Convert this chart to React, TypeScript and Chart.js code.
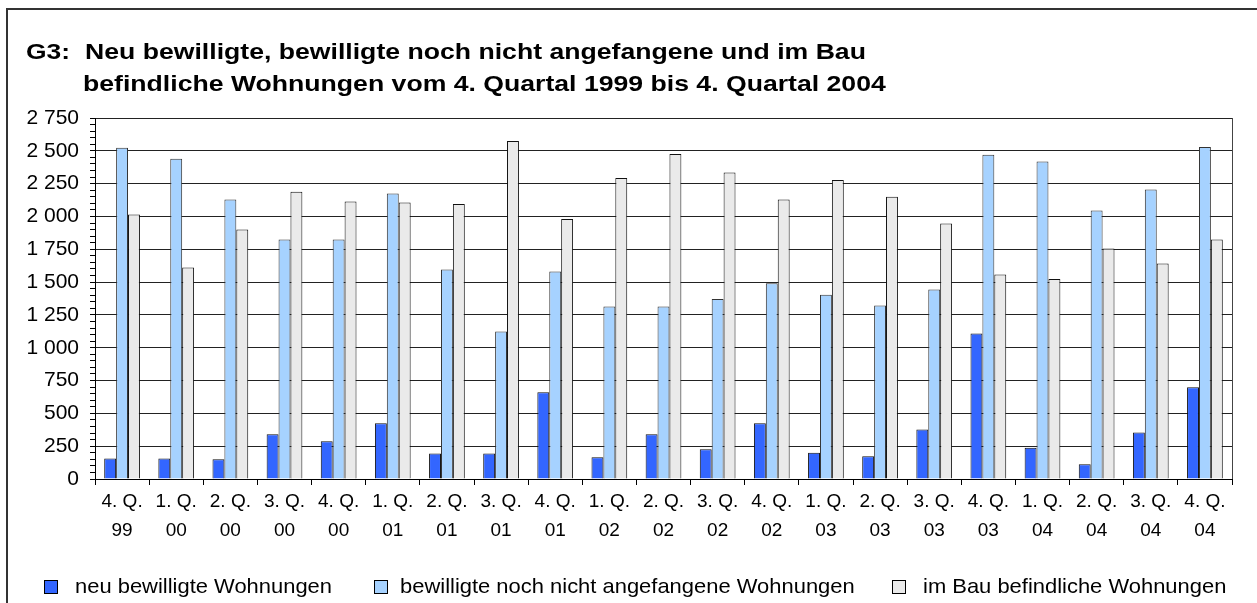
import React, { useEffect, useRef } from "react";
import { Chart, registerables } from "chart.js";

Chart.register(...registerables);

const quarters = ["4. Q.", "1. Q.", "2. Q.", "3. Q.", "4. Q.", "1. Q.", "2. Q.", "3. Q.", "4. Q.", "1. Q.", "2. Q.", "3. Q.", "4. Q.", "1. Q.", "2. Q.", "3. Q.", "4. Q.", "1. Q.", "2. Q.", "3. Q.", "4. Q."];
const years = ["99", "00", "00", "00", "00", "01", "01", "01", "01", "02", "02", "02", "02", "03", "03", "03", "03", "04", "04", "04", "04"];

const neuBewilligt = [157, 157, 150, 340, 287, 424, 195, 195, 660, 165, 340, 226, 424, 200, 173, 378, 1109, 238, 112, 355, 698];
const nochNichtAngefangen = [2524, 2440, 2129, 1824, 1824, 2174, 1596, 1124, 1581, 1314, 1314, 1372, 1492, 1403, 1322, 1444, 2471, 2418, 2045, 2205, 2529];
const imBau = [2014, 1611, 1900, 2189, 2113, 2106, 2095, 2575, 1981, 2293, 2476, 2334, 2129, 2278, 2151, 1946, 1558, 1524, 1756, 1642, 1824];

const seriesLabels = [
  "neu bewilligte Wohnungen",
  "bewilligte noch nicht angefangene Wohnungen",
  "im Bau befindliche Wohnungen",
];

const titlePrefix = "G3:";
const titleLine1 = "Neu bewilligte, bewilligte noch nicht angefangene und im Bau";
const titleLine2 = "befindliche Wohnungen vom 4. Quartal 1999 bis 4. Quartal 2004";

const FONT = "'Liberation Sans', Arial, sans-serif";

const fmt = (v: number) => {
  const s = String(Math.round(v));
  return s.length > 3 ? s.slice(0, s.length - 3) + " " + s.slice(-3) : s;
};

const drawWide = (ctx: any, text: string, x: number, y: number, sx: number) => {
  ctx.save();
  ctx.translate(x, y);
  ctx.scale(sx, 1);
  ctx.fillText(text, 0, 0);
  ctx.restore();
};

const decorPlugin = {
  id: "decor",
  beforeDraw(chart: any) {
    const ctx = chart.ctx;
    ctx.save();
    ctx.fillStyle = "#fff";
    ctx.fillRect(0, 0, chart.width, chart.height);
    ctx.strokeStyle = "#333";
    ctx.lineWidth = 2;
    ctx.strokeRect(7, 9, chart.width + 10, chart.height + 10);
    ctx.restore();
  },
  afterDraw(chart: any) {
    const ctx = chart.ctx;
    const a = chart.chartArea;
    ctx.save();
    // right border of plot area
    ctx.strokeStyle = "#444";
    ctx.lineWidth = 1;
    ctx.beginPath();
    ctx.moveTo(Math.round(a.right) + 0.5, a.top);
    ctx.lineTo(Math.round(a.right) + 0.5, a.bottom);
    ctx.stroke();
    // title
    ctx.fillStyle = "#000";
    ctx.font = `bold 22px ${FONT}`;
    ctx.textBaseline = "middle";
    ctx.textAlign = "left";
    drawWide(ctx, titlePrefix, 26, 53, 1.2);
    drawWide(ctx, titleLine1, 85, 53, 1.21);
    drawWide(ctx, titleLine2, 83, 85, 1.21);
    // legend
    const boxX = [44, 374, 892];
    const textX = [75, 400, 923];
    ctx.font = `21px ${FONT}`;
    chart.data.datasets.forEach((ds: any, i: number) => {
      ctx.fillStyle = ds.backgroundColor;
      ctx.fillRect(boxX[i], 580, 13, 13);
      ctx.strokeStyle = "#000";
      ctx.lineWidth = 1;
      ctx.strokeRect(boxX[i] + 0.5, 580.5, 13, 13);
      ctx.fillStyle = "#000";
      drawWide(ctx, ds.label, textX[i], 587, 1.045);
    });
    ctx.restore();
  },
};

export default function App() {
  const ref = useRef<HTMLCanvasElement | null>(null);
  useEffect(() => {
    if (!ref.current) return;
    const labels = quarters.map((q, i) => [q, years[i]]);
    const chart = new Chart(ref.current, {
      type: "bar",
      data: {
        labels,
        datasets: [
          { label: seriesLabels[0], data: neuBewilligt, backgroundColor: "#3366FF", borderColor: "#111", borderWidth: 1 },
          { label: seriesLabels[1], data: nochNichtAngefangen, backgroundColor: "#A6D2FF", borderColor: "#333", borderWidth: 1 },
          { label: seriesLabels[2], data: imBau, backgroundColor: "#EAEAEA", borderColor: "#111", borderWidth: 1 },
        ],
      },
      options: {
        responsive: false,
        animation: false,
        layout: { padding: { top: 118, right: 25, left: 0, bottom: 0 } },
        datasets: { bar: { categoryPercentage: 0.66, barPercentage: 1 } },
        plugins: { legend: { display: false }, title: { display: false }, tooltip: { enabled: false } },
        scales: {
          x: {
            grid: { offset: true, drawOnChartArea: false, tickLength: 6, color: "#000" },
            border: { color: "#000" },
            ticks: { color: "#000", font: { family: FONT, size: 19, lineHeight: 1.53 }, padding: 2, maxRotation: 0, autoSkip: false },
            afterFit: (s: any) => { s.height = 124; },
          },
          y: {
            min: 0,
            max: 2750,
            grid: {
              color: (c: any) => (c.tick && c.tick.value % 250 === 0 ? "#222" : "rgba(0,0,0,0)"),
              tickColor: "#000",
              tickLength: 5,
            },
            border: { color: "#000" },
            ticks: {
              stepSize: 50,
              autoSkip: false,
              color: "#000",
              padding: 11,
              font: { family: FONT, size: 21 },
              callback: (v: any) => (Number(v) % 250 === 0 ? fmt(Number(v)) : ""),
            },
            afterFit: (s: any) => { s.width = 95; },
          },
        },
      },
      plugins: [decorPlugin],
    });
    return () => chart.destroy();
  }, []);
  return (
    <div style={{ position: "absolute", left: 0, top: 0, width: 1257, height: 603 }}>
      <canvas ref={ref} width={1257} height={603} style={{ display: "block" }} />
    </div>
  );
}
